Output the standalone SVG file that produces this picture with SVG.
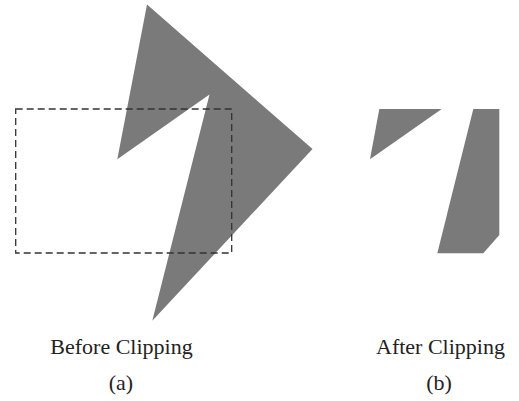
<svg xmlns="http://www.w3.org/2000/svg" width="519" height="401" viewBox="0 0 519 401">
<style>
.shape{fill:#7a7a7a;stroke:none}
.clip{fill:none;stroke:#333;stroke-width:1.3;stroke-dasharray:7,4}
.lbl{font-family:"Liberation Serif","Times New Roman",serif;font-size:22px;fill:#222;text-anchor:middle}
</style>
<rect width="519" height="401" fill="#fff"/>
<g id="before">
<polygon class="shape" points="147,4.5 312.5,149 152.3,320.7 209.5,94.5 117.3,159.3"/>
<rect id="clip-window" class="clip" x="15.7" y="109" width="216" height="144"/>
</g>
<g id="after">
<polygon class="shape" points="379.3,109 441.7,109 370,159.3"/>
<polygon class="shape" points="473.3,109 499.3,109 499.3,235 483.3,253.3 437.3,253.3"/>
</g>
<g id="labels">
<text class="lbl" x="121.5" y="354">Before Clipping</text>
<text class="lbl" x="121" y="390">(a)</text>
<text class="lbl" x="440.5" y="354">After Clipping</text>
<text class="lbl" x="439" y="390">(b)</text>
</g>
</svg>
